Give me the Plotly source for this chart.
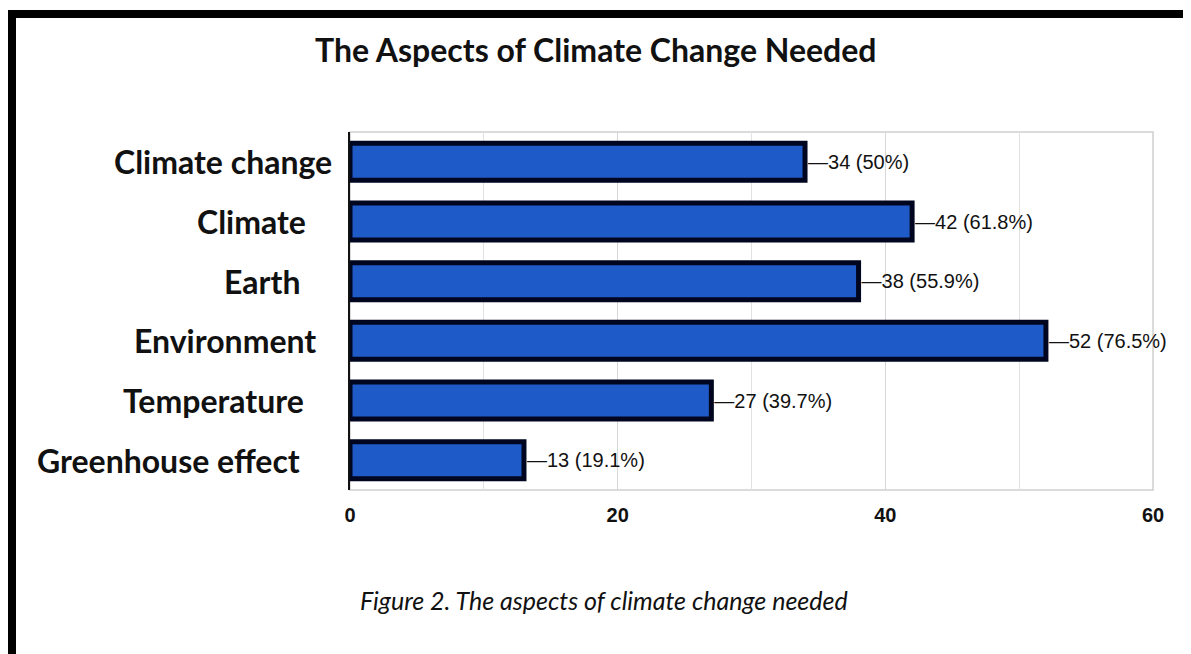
import plotly.graph_objects as go

categories = ["Climate change", "Climate", "Earth", "Environment", "Temperature", "Greenhouse effect"]
counts = [34, 42, 38, 52, 27, 13]
percents = [50, 61.8, 55.9, 76.5, 39.7, 19.1]
x_ticks = [0, 20, 40, 60]
title_text = "The Aspects of Climate Change Needed"
caption_text = "Figure 2. The aspects of climate change needed"

# the page body adds an 8px margin; compensate so page coordinates match
OX, OY = 8, 8
W, H = 1191 - OX, 654 - OY
L, R, T, B = 350 - OX, 1153 - OX, 132 - OY, 490 - OY  # plot area in figure pixels


def px(x):
    return (x - OX - L) / (R - L)


def py(y):
    return (B - (y - OY)) / (B - T)


labels = [f"\u2014{c} ({p:g}%)" for c, p in zip(counts, percents)]

fig = go.Figure()
fig.add_trace(go.Bar(
    x=counts, y=categories, orientation="h",
    width=0.62,
    marker=dict(color="#1f5bc8", line=dict(color="#00061f", width=5)),
    text=labels, textposition="outside", cliponaxis=False,
    textfont=dict(family="Liberation Sans, Arial, sans-serif", size=20, color="#111111"),
    hoverinfo="skip",
))

# category labels (right edges vary as in the original)
label_right = [334, 308, 302, 318, 306, 302]
annotations = []
for cat, xr in zip(categories, label_right):
    annotations.append(dict(
        x=px(xr), y=cat, xref="paper", yref="y", xanchor="right", yanchor="middle",
        text=f"<b>{cat}</b>", showarrow=False,
        font=dict(family="Lato, Open Sans, sans-serif", size=32, color="#111111"),
    ))
annotations.append(dict(
    x=px(596), y=py(50), xref="paper", yref="paper", xanchor="center", yanchor="middle",
    text=f"<b>{title_text}</b>", showarrow=False,
    font=dict(family="Lato, Open Sans, sans-serif", size=32, color="#111111"),
))
annotations.append(dict(
    x=px(604), y=py(600), xref="paper", yref="paper", xanchor="center", yanchor="middle",
    text=f"<i>{caption_text}</i>", showarrow=False,
    font=dict(family="Lato, Open Sans, sans-serif", size=25, color="#111111"),
))

shapes = [
    # plot frame (light grey)
    dict(type="rect", xref="paper", yref="paper", x0=0, x1=1, y0=0, y1=1,
         line=dict(color="#cfcfcf", width=1.5), layer="below"),
    # page borders
    dict(type="line", xref="paper", yref="paper", x0=px(12), x1=px(12), y0=py(720), y1=py(10),
         line=dict(color="#000000", width=8)),
    dict(type="line", xref="paper", yref="paper", x0=px(8), x1=px(1260), y0=py(14), y1=py(14),
         line=dict(color="#000000", width=8)),
]

fig.update_layout(
    width=W, height=H,
    margin=dict(l=L, r=W - R, t=T, b=H - B, pad=0),
    paper_bgcolor="white", plot_bgcolor="white",
    showlegend=False,
    annotations=annotations,
    shapes=shapes,
    xaxis=dict(
        range=[0, 60], tickvals=x_ticks, ticktext=[f"<b>{v}</b>" for v in x_ticks],
        showgrid=True, gridcolor="#d6d6d6", gridwidth=1,
        minor=dict(dtick=10, showgrid=True, gridcolor="#e2e2e2", gridwidth=1),
        zeroline=False, showline=False, ticks="",
        tickfont=dict(family="Liberation Sans, Arial, sans-serif", size=20, color="#111111"),
        ticklabelstandoff=11,
        fixedrange=True,
    ),
    yaxis=dict(
        categoryorder="array", categoryarray=categories, autorange="reversed",
        showticklabels=False, showgrid=False, zeroline=False,
        showline=True, linecolor="#111111", linewidth=2, ticks="",
        fixedrange=True,
    ),
)

fig.write_html("out.html")
